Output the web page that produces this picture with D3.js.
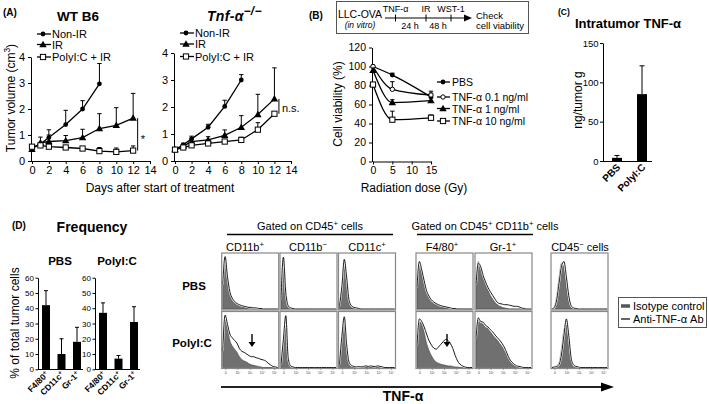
<!DOCTYPE html>
<html><head><meta charset="utf-8">
<script src="https://cdn.jsdelivr.net/npm/d3@7"></script>
<style>body{margin:0;background:#fff}svg{font-family:"Liberation Sans",Arial,Helvetica,sans-serif}</style>
</head><body><svg id="c" width="709" height="404"></svg>
<script>
// ---------------- DATA ----------------
// Panel A: tumor growth (cm3), mean and mean+SD
const daysA = [0, 1, 2, 4, 6, 8, 10, 12];
const wtNonIR      = [0.50, 0.65, 0.90, 1.40, 2.00, 2.97];
const wtNonIRUp    = [0.55, 0.72, 1.20, 1.95, 2.32, 3.75];
const wtIR         = [0.45, 0.70, 0.75, 0.78, 0.90, 1.25, 1.37, 1.65];
const wtIRUp       = [0.50, 0.92, 1.00, 0.98, 1.22, 1.82, 2.05, 2.60];
const wtPoly       = [0.55, 0.60, 0.55, 0.52, 0.48, 0.38, 0.35, 0.40];
const wtPolyUp     = [0.60, 0.65, 0.60, 0.58, 0.55, 0.52, 0.50, 0.58];
const koNonIR      = [0.42, 0.60, 0.82, 1.25, 2.02, 3.00];
const koNonIRUp    = [0.46, 0.66, 0.92, 1.36, 2.25, 3.20];
const koIR         = [0.42, 0.55, 0.72, 0.78, 0.95, 1.25, 1.72, 2.30];
const koIRUp       = [0.46, 0.60, 0.80, 0.90, 1.15, 1.68, 2.47, 3.45];
const koPoly       = [0.42, 0.50, 0.58, 0.65, 0.72, 0.78, 1.16, 1.75];
const koPolyUp     = [0.46, 0.55, 0.62, 0.70, 0.80, 0.88, 1.42, 1.78];
const ticksA_x = [0, 2, 4, 6, 8, 10, 12, 14];
const ticksA_y = [0, 1, 2, 3, 4];
const legendA = ["Non-IR", "IR", "PolyI:C + IR"];

// Panel B: cell viability (%)
const dosesB = [0, 5, 15];
const vPBS     = [100, 91, 68];
const vPBSUp   = [100, 93, 72];
const vT01     = [100, 76, 70];
const vT01Up   = [100, 84, 74];
const vT1      = [96, 62, 64];
const vT1Up    = [96, 65, 67];
const vT10     = [81, 44, 46];
const vT10Up   = [83, 53, 49];
const legendB = ["PBS", "TNF-α 0.1 ng/ml", "TNF-α 1 ng/ml", "TNF-α 10 ng/ml"];
const ticksB_x = [0, 5, 10, 15];
const ticksB_y = [0, 20, 40, 60, 80, 100, 120];

// Panel C: intratumor TNF-a
const catsC = ["PBS", "PolyI:C"];
const valC = [4, 85];
const valCUp = [7, 121];
const ticksC_y = [0, 50, 100, 150];

// Panel D: frequency
const catsD = ["F4/80+", "CD11c+", "Gr-1+"];
const freqPBS = [42, 10, 18];
const freqPBSUp = [51.5, 20, 27.5];
const freqPoly = [37, 7, 31];
const freqPolyUp = [43.5, 9, 41];
const ticksD_y = [0, 10, 20, 30, 40, 50, 60];

// Panel D histograms (24 bins, relative counts 0-100)
const hPBS_CD11bP_iso = [40,95,55,28,18,12,9,7,5,4,3,3,2,2,1,1,0,0,0,0,0,0,0,0];
const hPBS_CD11bP_ab  = [45,97,60,32,20,14,10,8,6,5,4,3,3,2,2,1,1,0,0,0,0,0,0,0];
const hPBS_CD11bN_iso = [20,95,35,8,3,1,0,0,0,0,0,0,0,0,0,0,0,0,0,0,0,0,0,0];
const hPBS_CD11bN_ab  = [18,96,30,6,2,1,0,0,0,0,0,0,0,0,0,0,0,0,0,0,0,0,0,0];
const hPBS_CD11cP_iso = [5,40,90,60,15,5,2,1,0,0,0,0,0,0,0,0,0,0,0,0,0,0,0,0];
const hPBS_CD11cP_ab  = [6,42,92,58,16,6,3,2,1,0,0,0,0,0,0,0,0,0,0,0,0,0,0,0];
const hPBS_F480_iso   = [40,85,70,50,32,22,16,12,9,7,5,4,3,2,1,1,0,0,0,0,0,0,0,0];
const hPBS_F480_ab    = [40,88,72,52,34,24,17,13,10,8,6,5,4,3,2,1,1,0,0,0,0,0,0,0];
const hPBS_Gr1_iso    = [40,88,75,60,45,35,25,18,12,8,5,3,2,1,0,0,0,0,0,0,0,0,0,0];
const hPBS_Gr1_ab     = [45,85,78,62,50,40,32,25,18,12,10,9,8,8,7,6,5,5,4,2,1,0,0,0];
const hPBS_CD45N_iso  = [0,5,25,60,85,75,40,12,3,1,0,0,0,0,0,0,0,0,0,0,0,0,0,0];
const hPBS_CD45N_ab   = [0,3,18,50,80,88,60,25,6,2,1,0,0,0,0,0,0,0,0,0,0,0,0,0];
const hPoly_CD11bP_iso = [30,95,75,50,40,34,28,20,15,12,10,7,5,4,3,2,1,0,0,0,0,0,0,0];
const hPoly_CD11bP_ab  = [30,97,80,62,55,50,45,35,30,28,25,22,20,20,18,17,15,14,12,8,5,2,1,0];
const hPoly_CD11bN_iso = [5,50,95,20,4,1,0,0,0,0,0,0,0,0,0,0,0,0,0,0,0,0,0,0];
const hPoly_CD11bN_ab  = [5,52,96,18,3,1,0,0,0,0,0,0,0,0,0,0,0,0,0,0,0,0,0,0];
const hPoly_CD11cP_iso = [5,55,92,40,8,2,1,0,0,0,0,0,0,0,0,0,0,0,0,0,0,0,0,0];
const hPoly_CD11cP_ab  = [6,58,94,42,10,4,2,1,2,1,2,3,2,3,2,2,3,2,1,0,0,0,0,0];
const hPoly_F480_iso   = [40,85,80,65,45,32,22,15,10,8,6,5,4,3,3,2,1,1,0,0,0,0,0,0];
const hPoly_F480_ab    = [40,90,85,75,62,50,42,36,34,38,43,48,52,50,44,35,22,12,6,3,1,0,0,0];
const hPoly_Gr1_iso    = [50,88,82,80,74,72,66,60,55,50,44,38,30,22,14,8,4,2,1,0,0,0,0,0];
const hPoly_Gr1_ab     = [55,92,85,84,78,75,70,66,60,55,50,44,36,26,16,10,6,3,2,1,0,0,0,0];
const hPoly_CD45N_iso  = [0,1,3,10,35,70,80,45,12,3,1,0,0,0,0,0,0,0,0,0,0,0,0,0];
const hPoly_CD45N_ab   = [0,1,2,6,25,60,90,60,18,5,2,1,0,0,0,0,0,0,0,0,0,0,0,0];
const histTickLabels = ["0", "10²", "10³", "10⁴", "10⁵"];

// ---------------- DRAWING ----------------
const svg = d3.select("#c");
const fmtInt = d3.format("d");

function txt(x, y, s, o = {}) {
  const t = svg.append("text").attr("x", x).attr("y", y)
    .attr("font-size", o.size || 11)
    .attr("font-weight", o.bold ? "bold" : null)
    .attr("font-style", o.italic ? "italic" : null)
    .attr("text-anchor", o.anchor || "start")
    .attr("fill", "#000");
  if (o.rotate) t.attr("transform", `rotate(${o.rotate},${x},${y})`);
  t.text(s);
  return t;
}
// text with superscript part(s): parts = [[text, isSup], ...]
function richTxt(x, y, parts, o = {}) {
  const fs = o.size || 11;
  const t = svg.append("text").attr("x", x).attr("y", y)
    .attr("font-size", fs).attr("text-anchor", o.anchor || "start")
    .attr("font-weight", o.bold ? "bold" : null)
    .attr("font-style", o.italic ? "italic" : null);
  let up = false;
  parts.forEach(([s, sup]) => {
    const ts = t.append("tspan").text(s);
    if (sup && !up) { ts.attr("dy", -fs * 0.4); up = true; }
    else if (!sup && up) { ts.attr("dy", fs * 0.4); up = false; }
    if (sup) ts.attr("font-size", fs * (o.supScale || 0.7));
  });
  if (o.rotate) t.attr("transform", `rotate(${o.rotate},${x},${y})`);
  return t;
}

function styleAxis(g, fs) {
  g.selectAll("path,line").attr("stroke", "#000").attr("stroke-width", 1);
  g.selectAll("text").attr("font-size", fs).attr("fill", "#000");
  g.attr("font-family", null);
}

function marker(g, type, x, y, s = 1) {
  if (type === "dot") g.append("circle").attr("cx", x).attr("cy", y).attr("r", 2.4 * s).attr("fill", "#000");
  else if (type === "ocirc") g.append("circle").attr("cx", x).attr("cy", y).attr("r", 2.2 * s).attr("fill", "#fff").attr("stroke", "#000").attr("stroke-width", 1);
  else if (type === "tri") g.append("path").attr("d", d3.symbol(d3.symbolTriangle, 24 * s * s)()).attr("transform", `translate(${x},${y + 0.5})`).attr("fill", "#000");
  else if (type === "sq") g.append("rect").attr("x", x - 2.6 * s).attr("y", y - 2.6 * s).attr("width", 5.2 * s).attr("height", 5.2 * s).attr("fill", "#fff").attr("stroke", "#000").attr("stroke-width", 1);
}

function series(g, xs, ys, ups, xS, yS, type, curve) {
  const pts = ys.map((v, i) => [xS(xs[i]), yS(v)]);
  ups.forEach((u, i) => {
    if (i >= ys.length || u <= ys[i] + 0.0001) return;
    const x = xS(xs[i]);
    g.append("line").attr("x1", x).attr("x2", x).attr("y1", yS(ys[i])).attr("y2", yS(u)).attr("stroke", "#000").attr("stroke-width", 1);
    g.append("line").attr("x1", x - 2.2).attr("x2", x + 2.2).attr("y1", yS(u)).attr("y2", yS(u)).attr("stroke", "#000").attr("stroke-width", 1);
  });
  g.append("path").attr("d", d3.line().curve(curve || d3.curveLinear)(pts))
    .attr("fill", "none").attr("stroke", "#000").attr("stroke-width", 1.3);
  pts.forEach(p => marker(g, type, p[0], p[1]));
}

// ===== Panel A =====
txt(3, 16, "(A)", { bold: true, size: 10 });
txt(78, 21, "WT B6", { bold: true, size: 13.5, anchor: "middle" });
richTxt(207, 21, [["Tnf-α", false], ["−/−", true]], { bold: true, italic: true, size: 14, supScale: 0.85 }).attr("letter-spacing", 0.3);

function growth(x0, x1, yTop, data, legX, legY) {
  const g = svg.append("g");
  const xS = d3.scaleLinear([0, 14], [x0, x1]);
  const yS = d3.scaleLinear([0, 4], [161, yTop]);
  const ay = g.append("g").attr("transform", `translate(${x0 - 1},0)`)
    .call(d3.axisLeft(yS).tickValues(ticksA_y).tickFormat(fmtInt).tickSize(3).tickSizeOuter(0));
  styleAxis(ay, 11);
  const ax = g.append("g").attr("transform", `translate(0,161)`)
    .call(d3.axisBottom(xS).tickValues(ticksA_x).tickFormat(fmtInt).tickSize(3).tickSizeOuter(0).tickPadding(2));
  styleAxis(ax, 11);
  ax.select(".domain").attr("d", `M${x0 - 1},0.5H${x1}`);
  const types = ["dot", "tri", "sq"];
  data.forEach((d, k) => series(g, daysA, d[0], d[1], xS, yS, types[k]));
  legendA.forEach((s, k) => {
    const y = legY[k];
    g.append("line").attr("x1", legX).attr("x2", legX + 14).attr("y1", y).attr("y2", y).attr("stroke", "#000").attr("stroke-width", 1.3);
    marker(g, types[k], legX + 6, y);
    txt(legX + 15, y + 4, s, { size: 11 });
  });
  return { g, xS, yS };
}
const A1 = growth(32, 150, 57, [[wtNonIR, wtNonIRUp], [wtIR, wtIRUp], [wtPoly, wtPolyUp]], 37, [34, 44.5, 57]);
const A2 = growth(175, 291, 53, [[koNonIR, koNonIRUp], [koIR, koIRUp], [koPoly, koPolyUp]], 180, [33, 44, 56.5]);
{
  const x = A1.xS(12) + 4.5;
  svg.append("line").attr("x1", x).attr("x2", x).attr("y1", A1.yS(wtIR[7])).attr("y2", A1.yS(wtPoly[7])).attr("stroke", "#000").attr("stroke-width", 1);
  txt(x + 3, 143, "*", { size: 11 });
  const x2 = A2.xS(12) + 4.5;
  svg.append("line").attr("x1", x2).attr("x2", x2).attr("y1", A2.yS(koIR[7])).attr("y2", A2.yS(koPoly[7])).attr("stroke", "#000").attr("stroke-width", 1);
  txt(x2 + 3, 112, "n.s.", { size: 11 });
}
richTxt(15, 98, [["Tumor volume (cm", false], ["3", true], [")", false]], { size: 12, anchor: "middle", rotate: -90 });
txt(160, 192, "Days after start of treatment", { size: 12, anchor: "middle" });

// ===== Panel B =====
txt(309, 19, "(B)", { bold: true, size: 10 });
svg.append("rect").attr("x", 336.5).attr("y", 1.5).attr("width", 192).attr("height", 32).attr("fill", "none").attr("stroke", "#555").attr("stroke-width", 1);
txt(360, 18, "LLC-OVA", { size: 10.5, anchor: "middle" });
txt(360, 28, "(in vitro)", { size: 8.5, anchor: "middle", italic: true });
svg.append("line").attr("x1", 385).attr("x2", 465).attr("y1", 18).attr("y2", 18).attr("stroke", "#000").attr("stroke-width", 1.2);
svg.append("path").attr("d", "M464,14.5L472,18L464,21.5Z").attr("fill", "#000");
[395.5, 426, 451].forEach(x => svg.append("line").attr("x1", x).attr("x2", x).attr("y1", 14.5).attr("y2", 21.5).attr("stroke", "#000").attr("stroke-width", 1));
txt(395.5, 12, "TNF-α", { size: 9, anchor: "middle" });
txt(426, 12, "IR", { size: 9, anchor: "middle" });
txt(451, 12, "WST-1", { size: 9, anchor: "middle" });
txt(410, 29, "24 h", { size: 9, anchor: "middle" });
txt(438, 29, "48 h", { size: 9, anchor: "middle" });
txt(476, 19, "Check", { size: 9.5 });
txt(476, 29, "cell viability", { size: 9.5 });
{
  const g = svg.append("g");
  const xS = d3.scaleLinear([0, 15], [373, 431]);
  const yS = d3.scaleLinear([0, 120], [161.5, 47.5]);
  const ay = g.append("g").attr("transform", "translate(372,0)").call(d3.axisLeft(yS).tickValues(ticksB_y).tickFormat(fmtInt).tickSize(3).tickSizeOuter(0));
  styleAxis(ay, 10.5);
  const ax = g.append("g").attr("transform", "translate(0,161.5)").call(d3.axisBottom(xS).tickValues(ticksB_x).tickFormat(fmtInt).tickSize(3).tickSizeOuter(0).tickPadding(2));
  styleAxis(ax, 10.5);
  const types = ["dot", "ocirc", "tri", "sq"];
  const dat = [[vPBS, vPBSUp], [vT01, vT01Up], [vT1, vT1Up], [vT10, vT10Up]];
  dat.forEach((d, k) => series(g, dosesB, d[0], d[1], xS, yS, types[k], d3.curveMonotoneX));
  const ly = [82, 97, 108.5, 121];
  legendB.forEach((s, k) => {
    g.append("line").attr("x1", 437).attr("x2", 450).attr("y1", ly[k]).attr("y2", ly[k]).attr("stroke", "#000").attr("stroke-width", 1.3);
    marker(g, types[k], 443, ly[k]);
    txt(452, ly[k] + 4, s, { size: 10.5 });
  });
  txt(342, 104, "Cell viability (%)", { size: 12, anchor: "middle", rotate: -90 });
  txt(414, 192, "Radiation dose (Gy)", { size: 12, anchor: "middle" });
}

// ===== Panel C =====
txt(558, 15, "(C)", { bold: true, size: 8.5 });
txt(628, 28, "Intratumor TNF-α", { bold: true, size: 13, anchor: "middle" });
{
  const g = svg.append("g");
  const xS = d3.scaleBand(catsC, [603, 656]).paddingInner(0.6).paddingOuter(0.36);
  const yS = d3.scaleLinear([0, 150], [161, 43]);
  const ay = g.append("g").attr("transform", "translate(603,0)").call(d3.axisLeft(yS).tickValues(ticksC_y).tickFormat(fmtInt).tickSize(3).tickSizeOuter(0).tickPadding(1.5));
  styleAxis(ay, 9.5);
  catsC.forEach((c, i) => {
    const x = xS(c), w = xS.bandwidth(), cx = x + w / 2;
    g.append("rect").attr("x", x).attr("y", yS(valC[i])).attr("width", w).attr("height", yS(0) - yS(valC[i])).attr("fill", "#000");
    g.append("line").attr("x1", cx).attr("x2", cx).attr("y1", yS(valC[i])).attr("y2", yS(valCUp[i])).attr("stroke", "#000");
    g.append("line").attr("x1", cx - 2.5).attr("x2", cx + 2.5).attr("y1", yS(valCUp[i])).attr("y2", yS(valCUp[i])).attr("stroke", "#000");
    txt(cx + 4, 168, c, { bold: true, size: 10, anchor: "end", rotate: -45 });
  });
  g.append("line").attr("x1", 603).attr("x2", 652).attr("y1", 161.5).attr("y2", 161.5).attr("stroke", "#000");
  txt(582, 100, "ng/tumor g", { size: 12, anchor: "middle", rotate: -90 });
}

// ===== Panel D: frequency =====
txt(12, 229, "(D)", { bold: true, size: 10 });
txt(92, 232, "Frequency", { bold: true, size: 14, anchor: "middle" });
function freq(ax0, vals, ups, title) {
  const g = svg.append("g");
  const xS = d3.scaleBand(catsD, [ax0, ax0 + 47]).paddingInner(0.484).paddingOuter(0.258);
  const yS = d3.scaleLinear([0, 60], [369.3, 277.7]);
  const ay = g.append("g").attr("transform", `translate(${ax0},0)`).call(d3.axisLeft(yS).tickValues(ticksD_y).tickFormat(fmtInt).tickSize(2.5).tickSizeOuter(0).tickPadding(1.5));
  styleAxis(ay, 8);
  catsD.forEach((c, i) => {
    const x = xS(c), w = xS.bandwidth(), cx = x + w / 2;
    g.append("rect").attr("x", x).attr("y", yS(vals[i])).attr("width", w).attr("height", yS(0) - yS(vals[i])).attr("fill", "#000");
    g.append("line").attr("x1", cx).attr("x2", cx).attr("y1", yS(vals[i])).attr("y2", yS(ups[i])).attr("stroke", "#000");
    g.append("line").attr("x1", cx - 2).attr("x2", cx + 2).attr("y1", yS(ups[i])).attr("y2", yS(ups[i])).attr("stroke", "#000");
    const m = c.match(/^(.*)\+$/);
    const t = svg.append("text").attr("font-size", 8.5).attr("font-weight", "bold").attr("text-anchor", "end")
      .attr("transform", `translate(${cx + 3},${375}) rotate(-45)`);
    t.append("tspan").text(m[1]);
    t.append("tspan").text("+").attr("font-size", 6).attr("dy", -3);
  });
  g.append("line").attr("x1", ax0).attr("x2", ax0 + 45).attr("y1", 369.5).attr("y2", 369.5).attr("stroke", "#000");
  txt(ax0 + 22, 265, title, { bold: true, size: 11.5, anchor: "middle" });
}
freq(38, freqPBS, freqPBSUp, "PBS");
freq(95, freqPoly, freqPolyUp, "PolyI:C");
txt(19, 323, "% of total tumor cells", { size: 12, anchor: "middle", rotate: -90 });

// ===== Panel D: histograms =====
const histX = [221.7, 280, 338.5, 416, 475, 551];
const histY = [253, 311.5];
const HS = 57;
const histRows = [
  [[hPBS_CD11bP_iso, hPBS_CD11bP_ab], [hPBS_CD11bN_iso, hPBS_CD11bN_ab], [hPBS_CD11cP_iso, hPBS_CD11cP_ab],
   [hPBS_F480_iso, hPBS_F480_ab], [hPBS_Gr1_iso, hPBS_Gr1_ab], [hPBS_CD45N_iso, hPBS_CD45N_ab]],
  [[hPoly_CD11bP_iso, hPoly_CD11bP_ab], [hPoly_CD11bN_iso, hPoly_CD11bN_ab], [hPoly_CD11cP_iso, hPoly_CD11cP_ab],
   [hPoly_F480_iso, hPoly_F480_ab], [hPoly_Gr1_iso, hPoly_Gr1_ab], [hPoly_CD45N_iso, hPoly_CD45N_ab]]
];
histRows.forEach((row, r) => {
  row.forEach((pair, c) => {
    const bx = histX[c], by = histY[r];
    const g = svg.append("g");
    const xS = d3.scaleLinear([0, 23], [bx + 1, bx + HS - 1]);
    const yS = d3.scaleLinear([0, 100], [by + HS - 1, by + 2]);
    const area = d3.area().x((d, i) => xS(i)).y0(yS(0)).y1(d => yS(d)).curve(d3.curveMonotoneX);
    const line = d3.line().x((d, i) => xS(i)).y(d => yS(d)).curve(d3.curveMonotoneX);
    g.append("path").attr("d", area(pair[0])).attr("fill", "#707070").attr("stroke", "#444").attr("stroke-width", 0.6);
    g.append("path").attr("d", line(pair[1])).attr("fill", "none").attr("stroke", "#fff").attr("stroke-width", 2);
    g.append("path").attr("d", line(pair[1])).attr("fill", "none").attr("stroke", "#000").attr("stroke-width", 0.9);
    g.append("rect").attr("x", bx).attr("y", by).attr("width", HS).attr("height", HS).attr("fill", "none").attr("stroke", "#888").attr("stroke-width", 1.2);
    if (r === 1) {
      const tS = d3.scaleLinear([0, 4], [bx + 4, bx + HS - 4]);
      histTickLabels.forEach((s, k) => {
        g.append("line").attr("x1", tS(k)).attr("x2", tS(k)).attr("y1", by + HS).attr("y2", by + HS + 1.5).attr("stroke", "#666").attr("stroke-width", 0.5);
        g.append("text").attr("x", tS(k)).attr("y", by + HS + 5).attr("font-size", 3.5).attr("text-anchor", "middle").attr("fill", "#444").text(s);
      });
    }
  });
});
function downArrow(x, y1, y2) {
  svg.append("line").attr("x1", x).attr("x2", x).attr("y1", y1).attr("y2", y2 - 4).attr("stroke", "#000").attr("stroke-width", 1.4);
  svg.append("path").attr("d", `M${x - 3.5},${y2 - 5}L${x + 3.5},${y2 - 5}L${x},${y2}Z`).attr("fill", "#000");
}
downArrow(252, 334, 347);
downArrow(447, 334, 347);

// headers
richTxt(310, 230, [["Gated on CD45", false], ["+", true], [" cells", false]], { size: 11, anchor: "middle" });
svg.append("line").attr("x1", 227).attr("x2", 393).attr("y1", 234.5).attr("y2", 234.5).attr("stroke", "#000").attr("stroke-width", 1.4);
richTxt(485, 230, [["Gated on CD45", false], ["+", true], [" CD11b", false], ["+", true], [" cells", false]], { size: 11, anchor: "middle" });
svg.append("line").attr("x1", 417).attr("x2", 533).attr("y1", 234.5).attr("y2", 234.5).attr("stroke", "#000").attr("stroke-width", 1.4);
richTxt(245, 251, [["CD11b", false], ["+", true]], { size: 11, anchor: "middle" });
richTxt(308, 251, [["CD11b", false], ["−", true]], { size: 11, anchor: "middle" });
richTxt(367, 251, [["CD11c", false], ["+", true]], { size: 11, anchor: "middle" });
richTxt(442, 251, [["F4/80", false], ["+", true]], { size: 11, anchor: "middle" });
richTxt(503, 251, [["Gr-1", false], ["+", true]], { size: 11, anchor: "middle" });
richTxt(580, 251, [["CD45", false], ["−", true], [" cells", false]], { size: 11, anchor: "middle" });
txt(194, 290, "PBS", { bold: true, size: 11.5, anchor: "middle" });
txt(192, 347, "PolyI:C", { bold: true, size: 11.5, anchor: "middle" });

// legend
svg.append("rect").attr("x", 618.5).attr("y", 297.5).attr("width", 88).attr("height", 30).attr("fill", "#fff").attr("stroke", "#555");
svg.append("line").attr("x1", 621).attr("x2", 630).attr("y1", 306).attr("y2", 306).attr("stroke", "#555").attr("stroke-width", 3.5);
txt(633, 310, "Isotype control", { size: 11 });
svg.append("line").attr("x1", 621).attr("x2", 630).attr("y1", 319).attr("y2", 319).attr("stroke", "#000").attr("stroke-width", 1.2);
txt(633, 323, "Anti-TNF-α Ab", { size: 11 });

// bottom arrow
svg.append("line").attr("x1", 221).attr("x2", 603).attr("y1", 387).attr("y2", 387).attr("stroke", "#222").attr("stroke-width", 2);
svg.append("path").attr("d", "M601,382.5L614,387L601,391.5Z").attr("fill", "#000");
txt(403, 401, "TNF-α", { bold: true, size: 14, anchor: "middle" });
</script></body></html>
